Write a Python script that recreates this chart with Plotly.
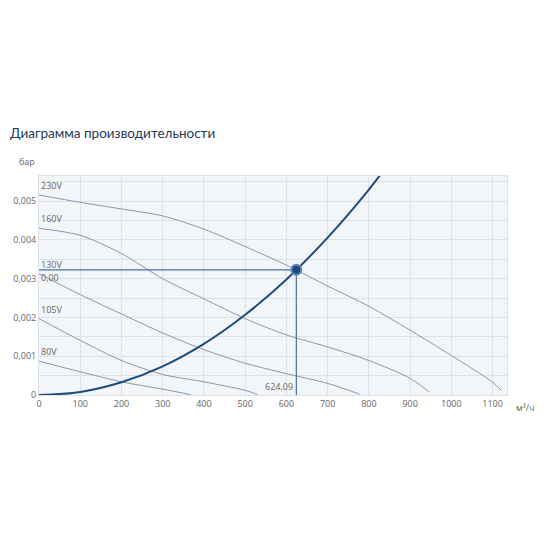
import plotly.graph_objects as go

# Fan curves at each voltage (м³/ч, бар)
flow_230 = [0, 100, 200, 300, 400, 500, 600, 700, 800, 900, 1000, 1100, 1122]
pres_230 = [0.00516, 0.00497, 0.00480, 0.00462, 0.00428, 0.00383, 0.00335, 0.00281, 0.00229, 0.00167, 0.00102, 0.00033, 0.00011]

flow_160 = [0, 100, 200, 300, 400, 500, 600, 700, 800, 900, 946]
pres_160 = [0.00430, 0.00412, 0.00365, 0.00300, 0.00248, 0.00197, 0.00155, 0.00124, 0.00089, 0.00043, 0.00008]

flow_130 = [0, 100, 200, 300, 400, 500, 600, 700, 778]
pres_130 = [0.00313, 0.00259, 0.00209, 0.00160, 0.00117, 0.00082, 0.00055, 0.00030, 0.00002]

flow_105 = [0, 100, 200, 300, 400, 500, 530]
pres_105 = [0.00197, 0.00141, 0.00089, 0.00053, 0.00034, 0.00012, 0.00001]

flow_80 = [0, 100, 200, 300, 368]
pres_80 = [0.00087, 0.00060, 0.00034, 0.00015, 0.00001]

voltages = ["230V", "160V", "130V", "105V", "80V"]

# Network (system) curve
sys_flow = [0, 100, 200, 300, 400, 500, 600, 700, 800, 850]
sys_pres = [0, 0.00008, 0.00033, 0.00074, 0.00132, 0.00207, 0.00298, 0.00406, 0.00530, 0.00600]

# Operating point
op_flow = 624.09
op_pres = 0.00323

y_ticks = [0, 0.001, 0.002, 0.003, 0.004, 0.005]
y_tick_text = ["0", "0,001", "0,002", "0,003", "0,004", "0,005"]
x_ticks = [0, 100, 200, 300, 400, 500, 600, 700, 800, 900, 1000, 1100]

fan_color = "#8798ae"
dark = "#1d4c7c"
grey_text = "#666666"

# the page puts the figure 8px in from the corner
OFF = 8
# plot area in page pixels
L, R, T, B = 39, 507, 176, 395

fig = go.Figure()

curves = [(flow_230, pres_230), (flow_160, pres_160), (flow_130, pres_130),
          (flow_105, pres_105), (flow_80, pres_80)]
for (fx, fy), name in zip(curves, voltages):
    fig.add_trace(go.Scatter(x=fx, y=fy, mode="lines", name=name,
                             line=dict(color=fan_color, width=1, shape="spline", smoothing=0.8)))
    fig.add_annotation(x=0, y=fy[0], text=name, showarrow=False,
                       xanchor="left", yanchor="bottom", yshift=1,
                       font=dict(size=9, color=grey_text))

# operating point guide lines
fig.add_trace(go.Scatter(x=[0, op_flow], y=[op_pres, op_pres], mode="lines",
                         line=dict(color="#4a73a0", width=1.2)))
fig.add_trace(go.Scatter(x=[op_flow, op_flow], y=[0, op_pres], mode="lines",
                         line=dict(color="#4a73a0", width=1.2)))

fig.add_trace(go.Scatter(x=sys_flow, y=sys_pres, mode="lines",
                         line=dict(color=dark, width=2, shape="spline")))

fig.add_trace(go.Scatter(x=[op_flow], y=[op_pres], mode="markers",
                         marker=dict(size=10, color=dark,
                                     line=dict(color="#5f8bbb", width=2))))

fig.add_annotation(x=0, y=op_pres, text="0,00", showarrow=False,
                   xanchor="left", yanchor="top", yshift=1,
                   font=dict(size=9, color=grey_text))
fig.add_annotation(x=op_flow, y=0, text=f"{op_flow:.2f}".replace(".", ","),
                   showarrow=False, xanchor="right", yanchor="bottom",
                   xshift=-1, font=dict(size=9, color=grey_text))

# axis unit labels
fig.add_annotation(x=(27 - L) / (R - L), y=(B - 162) / (B - T), xref="paper", yref="paper",
                   xanchor="center", yanchor="middle",
                   text="бар", showarrow=False, font=dict(size=9, color=grey_text))
fig.add_annotation(x=(525 - L) / (R - L), y=(B - 407) / (B - T), xref="paper", yref="paper",
                   xanchor="center", yanchor="middle",
                   text="м³/ч", showarrow=False, font=dict(size=9, color=grey_text))

fig.update_layout(
    width=550, height=550,
    margin=dict(l=L - OFF, r=550 - R + OFF, t=T - OFF, b=550 - B + OFF),
    paper_bgcolor="white",
    plot_bgcolor="#f3f6f9",
    showlegend=False,
    font=dict(family="Open Sans, sans-serif"),
    title=dict(text="Диаграмма производительности", x=(10 - OFF) / 550, xanchor="left",
               y=1 - (133 - OFF) / 550, yanchor="middle", xref="container", yref="container",
               font=dict(family="Lato, sans-serif", size=13.5, color="#223a55")),
)
fig.update_xaxes(range=[0, 1135], tickvals=x_ticks, ticks="", automargin=False,
                 gridcolor="#dde2e8", showline=True, linecolor="#dde2e8", mirror=True,
                 zeroline=False, tickfont=dict(size=9, color=grey_text))
fig.update_yaxes(range=[0, 0.00565], tickvals=y_ticks, ticktext=y_tick_text, ticks="",
                 automargin=False,
                 gridcolor="#dde2e8", showline=True, linecolor="#dde2e8", mirror=True,
                 zeroline=False, tickfont=dict(size=9, color=grey_text),
                 minor=dict(dtick=0.0005, showgrid=True, gridcolor="#dde2e8"))

fig.write_html("out.html")
